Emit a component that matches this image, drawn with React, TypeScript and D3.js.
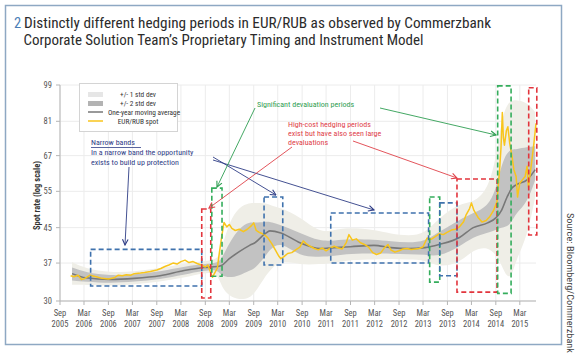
import React from "react";
import * as d3 from "d3";

const W = 580;
const H = 358;

const yTickValues = [30, 37, 45, 55, 67, 81, 99];
const xTickDates = [
  "2005-09-01", "2006-03-01", "2006-09-01", "2007-03-01", "2007-09-01",
  "2008-03-01", "2008-09-01", "2009-03-01", "2009-09-01", "2010-03-01",
  "2010-09-01", "2011-03-01", "2011-09-01", "2012-03-01", "2012-09-01",
  "2013-03-01", "2013-09-01", "2014-03-01", "2014-09-01", "2015-03-01",
];

const spotDates = [
  "2005-11-20", "2005-12-15", "2006-01-15", "2006-02-10", "2006-03-01", "2006-03-20",
  "2006-04-15", "2006-06-01", "2006-07-15", "2006-09-01", "2006-10-15", "2006-11-15",
  "2006-12-15", "2007-01-15", "2007-02-15", "2007-03-15", "2007-05-01", "2007-06-01",
  "2007-07-15", "2007-09-01", "2007-10-01", "2007-11-01", "2007-12-01", "2008-01-01",
  "2008-02-01", "2008-03-01", "2008-04-01", "2008-05-01", "2008-06-01", "2008-07-01",
  "2008-08-01", "2008-09-01", "2008-09-20", "2008-10-10", "2008-10-25", "2008-11-10",
  "2008-12-01", "2008-12-15", "2009-01-01", "2009-01-20", "2009-02-10", "2009-03-01",
  "2009-03-20", "2009-04-15", "2009-05-15", "2009-06-15", "2009-07-15", "2009-08-15",
  "2009-09-01", "2009-09-20", "2009-10-15", "2009-11-15", "2009-12-15", "2010-01-15",
  "2010-02-15", "2010-03-10", "2010-03-25", "2010-04-15", "2010-05-15", "2010-06-15",
  "2010-07-15", "2010-08-15", "2010-09-10", "2010-10-01", "2010-11-01", "2010-12-01",
  "2011-01-01", "2011-02-01", "2011-03-01", "2011-04-01", "2011-05-01", "2011-06-01",
  "2011-07-01", "2011-08-01", "2011-08-20", "2011-09-15", "2011-10-15", "2011-11-15",
  "2011-12-15", "2012-01-15", "2012-02-15", "2012-03-15", "2012-04-15", "2012-05-15",
  "2012-06-10", "2012-07-01", "2012-08-01", "2012-09-01", "2012-10-01", "2012-11-01",
  "2012-12-01", "2013-01-01", "2013-02-01", "2013-03-01", "2013-04-01", "2013-05-01",
  "2013-06-01", "2013-07-01", "2013-08-01", "2013-09-01", "2013-10-01", "2013-11-01",
  "2013-12-01", "2014-01-01", "2014-01-20", "2014-02-15", "2014-03-01", "2014-03-20",
  "2014-04-20", "2014-05-20", "2014-06-20", "2014-07-15", "2014-08-15", "2014-09-10",
  "2014-09-20", "2014-10-01", "2014-10-10", "2014-10-20", "2014-10-28", "2014-11-05",
  "2014-11-20", "2014-12-01", "2014-12-15", "2015-01-01", "2015-01-15", "2015-02-01",
  "2015-02-12", "2015-03-01", "2015-03-20", "2015-04-10", "2015-04-25", "2015-05-05",
  "2015-05-25", "2015-06-15", "2015-07-01",
];
const spotValues = [
  34.5, 34.3, 34.6, 33.8, 33.9, 34.2,
  34.6, 34.3, 34.0, 33.9, 34.1, 34.6,
  34.5, 34.7, 34.6, 34.9, 35.0, 35.1,
  35.3, 35.6, 35.9, 36.3, 36.6, 37.0,
  36.8, 37.3, 37.6, 37.1, 37.3, 36.9,
  36.6, 36.2, 36.6, 35.2, 34.2, 35.0,
  36.0, 39.0, 42.5, 46.3, 45.2, 45.8,
  44.8, 44.3, 44.6, 44.0, 44.6, 45.5,
  46.2, 44.3, 43.8, 43.4, 42.6, 41.2,
  39.6, 38.4, 37.9, 38.3, 39.0, 39.2,
  39.8, 40.4, 41.8, 41.2, 40.6, 40.1,
  39.8, 40.2, 39.6, 40.2, 40.6, 40.2,
  40.0, 41.5, 43.3, 42.0, 42.3, 41.4,
  41.0, 40.4, 39.2, 38.8, 39.1, 40.3,
  41.0, 39.8, 39.3, 39.6, 40.0, 40.1,
  39.9, 40.0, 40.1, 40.5, 42.5, 42.2,
  42.8, 43.5, 43.3, 43.9, 44.4, 44.6,
  45.2, 46.5, 48.3, 50.0, 51.6, 49.5,
  47.6, 46.4, 46.8, 47.7, 49.5, 52.0,
  57.0, 63.0, 70.0, 85.0, 74.0, 71.0,
  77.0, 78.6, 71.6, 66.8, 62.0, 59.7,
  53.3, 57.6, 58.6, 59.7, 63.2, 56.3,
  63.1, 71.6, 80.1,
];

const bandDates = [
  "2005-12-01", "2006-03-15", "2006-09-15", "2007-03-15", "2007-09-25", "2008-03-25",
  "2008-08-25", "2008-12-01", "2009-01-01", "2009-03-01", "2009-05-15", "2009-08-01",
  "2009-09-10", "2009-11-25", "2010-01-01", "2010-03-25", "2010-08-15", "2011-01-15",
  "2011-05-01", "2011-09-01", "2012-02-25", "2012-07-01", "2012-11-15", "2013-03-15",
  "2013-07-01", "2013-12-01", "2014-03-15", "2014-07-01", "2014-09-01", "2014-10-15",
  "2014-11-25", "2015-01-01", "2015-02-01", "2015-04-25", "2015-06-25",
];
const maValues = [
  34.9, 34.1, 33.8, 34.0, 34.5, 35.5, 36.1, 36.3, 36.5, 37.9, 39.4, 40.8,
  41.4, 43.5, 44.2, 43.7, 41.4, 40.1, 40.3, 40.5, 40.8, 40.3, 40.1, 40.3,
  41.0, 42.6, 45.0, 46.2, 47.5, 49.6, 53.3, 56.0, 57.0, 58.6, 62.0,
];
const innerLow = [
  33.6, 33.4, 33.1, 33.4, 33.8, 34.7, 35.5, 35.7, 34.5, 34.1, 34.5, 35.5,
  35.9, 38.3, 39.9, 41.7, 38.3, 38.3, 38.5, 39.0, 39.0, 39.0, 38.8, 38.8,
  38.3, 40.5, 42.8, 43.7, 44.5, 45.0, 45.2, 46.5, 48.8, 51.6, 58.6,
];
const innerHigh = [
  36.1, 35.1, 34.5, 34.7, 35.3, 36.3, 36.8, 37.0, 37.8, 41.4, 45.0, 46.5,
  46.2, 46.5, 46.5, 45.7, 43.7, 41.7, 41.9, 42.3, 42.1, 41.7, 41.4, 41.7,
  44.0, 47.0, 48.8, 50.5, 55.4, 64.0, 68.3, 69.4, 69.4, 70.2, 70.6,
];
const outerLow = [
  32.8, 32.8, 32.6, 32.9, 33.4, 34.1, 35.1, 35.1, 32.4, 30.8, 30.2, 30.5,
  31.4, 34.3, 35.5, 37.7, 36.6, 36.8, 37.0, 37.7, 37.7, 37.9, 37.7, 37.7,
  36.1, 37.0, 39.9, 40.5, 38.8, 36.6, 34.1, 34.5, 37.7, 42.8, 53.3,
];
const outerHigh = [
  37.2, 35.9, 35.1, 35.3, 35.9, 37.0, 37.4, 37.7, 39.9, 46.5, 50.5, 51.6,
  51.6, 51.6, 51.0, 50.2, 47.8, 43.7, 44.5, 45.0, 44.5, 43.5, 43.0, 43.5,
  47.5, 51.6, 51.6, 55.4, 65.6, 82.0, 89.0, 91.0, 91.0, 90.1, 85.2,
];

const periodStart = [
  "2006-04-20", "2008-08-05", "2008-10-20", "2009-11-18", "2011-04-05",
  "2013-04-20", "2013-07-05", "2013-11-12", "2014-09-15", "2015-05-07",
];
const periodEnd = [
  "2008-08-05", "2008-10-12", "2009-01-05", "2010-04-08", "2013-04-12",
  "2013-07-05", "2013-11-12", "2014-09-10", "2014-12-25", "2015-07-07",
];
const periodLow = [32.6, 30.5, 34.4, 36.6, 37.0, 33.3, 34.5, 31.5, 31.3, 43.2];
const periodHigh = [39.9, 49.9, 56.0, 53.3, 48.8, 53.3, 51.6, 58.9, 98.5, 97.5];
const periodKind = ["narrow", "cost", "deval", "narrow", "narrow", "deval", "narrow", "cost", "deval", "cost"];

const COLORS: Record<string, string> = {
  narrow: "#3f72ad",
  cost: "#e2353d",
  deval: "#34ad5c",
};
const NAVY = "#2f3d86";
const GREEN_TXT = "#2f9e52";
const RED_TXT = "#e0424a";

const FONT = "'Liberation Sans Narrow', 'Roboto Condensed', 'Arial Narrow', 'Liberation Sans', sans-serif";

export default function App() {
  const parse = (s: string) => new Date(s + "T00:00:00Z");
  const x = d3.scaleUtc().domain([parse("2005-09-01"), parse("2015-07-01")]).range([60, 536]);
  const y = d3.scaleLog().domain([30, 99]).range([301, 85]);

  const band = bandDates.map((d, i) => ({
    date: parse(d),
    ma: maValues[i],
    il: innerLow[i],
    ih: innerHigh[i],
    ol: outerLow[i],
    oh: outerHigh[i],
  }));
  const spot = spotDates.map((d, i) => ({ date: parse(d), v: spotValues[i] }));

  const outerArea = d3
    .area<any>()
    .x((d) => x(d.date))
    .y0((d) => y(d.ol))
    .y1((d) => y(d.oh))
    .curve(d3.curveBasis);
  const innerArea = d3
    .area<any>()
    .x((d) => x(d.date))
    .y0((d) => y(d.il))
    .y1((d) => y(d.ih))
    .curve(d3.curveBasis);
  const maLine = d3
    .line<any>()
    .x((d) => x(d.date))
    .y((d) => y(d.ma))
    .curve(d3.curveMonotoneX);
  const spotLine = d3
    .line<any>()
    .x((d) => x(d.date))
    .y((d) => y(d.v));

  const monthFmt = d3.utcFormat("%b");
  const yearFmt = d3.utcFormat("%Y");

  const arrows: { x1: number; y1: number; x2: number; y2: number; c: string; id: string }[] = [
    { x1: 129, y1: 167, x2: 125, y2: 245, c: NAVY, id: "arN" },
    { x1: 213, y1: 157, x2: 276, y2: 195, c: NAVY, id: "arN" },
    { x1: 213, y1: 160, x2: 374, y2: 210, c: NAVY, id: "arN" },
    { x1: 255, y1: 108, x2: 217, y2: 187, c: GREEN_TXT, id: "arG" },
    { x1: 380, y1: 108, x2: 496, y2: 135, c: GREEN_TXT, id: "arG" },
    { x1: 292, y1: 147, x2: 209, y2: 208, c: RED_TXT, id: "arR" },
    { x1: 353, y1: 141, x2: 457, y2: 178, c: RED_TXT, id: "arR" },
  ];

  return (
    <svg
      width={W}
      height={H}
      style={{ position: "absolute", left: 0, top: 0, background: "#fff" }}
      fontFamily={FONT}
    >
      <defs>
        {[
          ["arN", NAVY],
          ["arG", GREEN_TXT],
          ["arR", RED_TXT],
        ].map(([id, c]) => (
          <marker
            key={id}
            id={id}
            viewBox="0 0 10 10"
            refX="9"
            refY="5"
            markerWidth="7"
            markerHeight="7"
            markerUnits="userSpaceOnUse"
            orient="auto"
          >
            <path d="M1,1 L9,5 L1,9" fill="none" stroke={c} strokeWidth="1.6" />
          </marker>
        ))}
      </defs>

      {/* frame */}
      <rect x={5.5} y={5.5} width={556} height={339} fill="#fff" stroke="#8ea8c3" strokeWidth={1.5} />

      {/* title */}
      <text x={14} y={28} fontSize={14.5} fill="#4a7db6">2</text>
      <text x={24} y={28} fontSize={14.5} fill="#2b2b2b" textLength={467} lengthAdjust="spacingAndGlyphs">
        Distinctly different hedging periods in EUR/RUB as observed by Commerzbank
      </text>
      <text x={23.5} y={44.5} fontSize={14.5} fill="#2b2b2b" textLength={400} lengthAdjust="spacingAndGlyphs">
        Corporate Solution Team’s Proprietary Timing and Instrument Model
      </text>

      {/* grid */}
      <g stroke="#ececec" strokeWidth={1}>
        {xTickDates.map((d) => (
          <line key={d} x1={x(parse(d))} x2={x(parse(d))} y1={85} y2={301} />
        ))}
        {yTickValues.map((v) => (
          <line key={v} x1={60} x2={536} y1={y(v)} y2={y(v)} />
        ))}
      </g>

      {/* bands */}
      <path d={outerArea(band) || ""} fill="#efeee7" />
      <path d={innerArea(band) || ""} fill="#c2c2c2" />
      <path d={maLine(band) || ""} fill="none" stroke="#787878" strokeWidth={1.6} />
      <path d={spotLine(spot) || ""} fill="none" stroke="#f8c51c" strokeWidth={1.5} strokeLinejoin="round" />

      {/* period boxes */}
      {periodStart.map((s, i) => {
        const x0 = x(parse(s));
        const x1 = x(parse(periodEnd[i]));
        const y0 = y(periodHigh[i]);
        const y1 = y(periodLow[i]);
        return (
          <rect
            key={i}
            x={x0}
            y={y0}
            width={x1 - x0}
            height={y1 - y0}
            fill="none"
            stroke={COLORS[periodKind[i]]}
            strokeWidth={1.6}
            strokeDasharray="5,3"
          />
        );
      })}

      {/* axes */}
      <line x1={60} x2={60} y1={85} y2={301} stroke="#b5b5b5" />
      <line x1={60} x2={536} y1={301} y2={301} stroke="#b5b5b5" />
      {yTickValues.map((v) => (
        <g key={v}>
          <line x1={56} x2={60} y1={y(v)} y2={y(v)} stroke="#b5b5b5" />
          <text x={52} y={y(v) + 3} fontSize={8.5} fill="#555" textAnchor="end">
            {v}
          </text>
        </g>
      ))}
      {xTickDates.map((d) => {
        const xx = x(parse(d));
        return (
          <g key={d}>
            <line x1={xx} x2={xx} y1={301} y2={305} stroke="#b5b5b5" />
            <text x={xx} y={316} fontSize={8.5} fill="#555" textAnchor="middle">
              {monthFmt(parse(d))}
            </text>
            <text x={xx} y={326.5} fontSize={8.5} fill="#555" textAnchor="middle">
              {yearFmt(parse(d))}
            </text>
          </g>
        );
      })}
      <text
        transform="translate(40,195.5) rotate(-90)"
        fontSize={8.5}
        fontWeight="bold"
        fill="#333"
        textAnchor="middle"
      >
        Spot rate (log scale)
      </text>

      {/* legend */}
      <rect x={79.5} y={83.5} width={98} height={48} fill="#fff" stroke="#d4d4d4" />
      <rect x={88} y={92} width={15} height={5} fill="#e6e6e6" />
      <rect x={88} y={101} width={15} height={5} fill="#b3b3b3" />
      <line x1={88} x2={103} y1={112} y2={112} stroke="#777" strokeWidth={1.5} />
      <line x1={88} x2={103} y1={121} y2={121} stroke="#f8c51c" strokeWidth={1.5} />
      <g fontSize={7.3} fill="#333" textAnchor="middle">
        <text x={138} y={97}>+/- 1  std  dev</text>
        <text x={138} y={106}>+/- 2  std  dev</text>
        <text x={144} y={115}>One-year moving average</text>
        <text x={138} y={124}>EUR/RUB spot</text>
      </g>

      {/* annotations */}
      <g fontSize={8} fill={NAVY}>
        <text x={91} y={145}>Narrow bands</text>
        <line x1={91} x2={141} y1={147.5} y2={147.5} stroke={NAVY} strokeWidth={0.8} />
        <text x={91} y={155}>In a narrow band the opportunity</text>
        <text x={91} y={165}>exists to build up protection</text>
      </g>
      <text x={257} y={107} fontSize={8} fill={GREEN_TXT}>
        Significant devaluation periods
      </text>
      <g fontSize={8} fill={RED_TXT}>
        <text x={288} y={127}>High-cost hedging periods</text>
        <text x={288} y={136}>exist but have also seen large</text>
        <text x={288} y={145}>devaluations</text>
      </g>
      {arrows.map((a, i) => (
        <line
          key={i}
          x1={a.x1}
          y1={a.y1}
          x2={a.x2}
          y2={a.y2}
          stroke={a.c}
          strokeWidth={0.9}
          markerEnd={`url(#${a.id})`}
        />
      ))}

      {/* source */}
      <text
        transform="translate(567,213) rotate(90)"
        fontSize={9.5}
        fill="#444"
        textAnchor="start"
        textLength={140}
        lengthAdjust="spacingAndGlyphs"
      >
        Source: Bloomberg/Commerzbank
      </text>
    </svg>
  );
}
